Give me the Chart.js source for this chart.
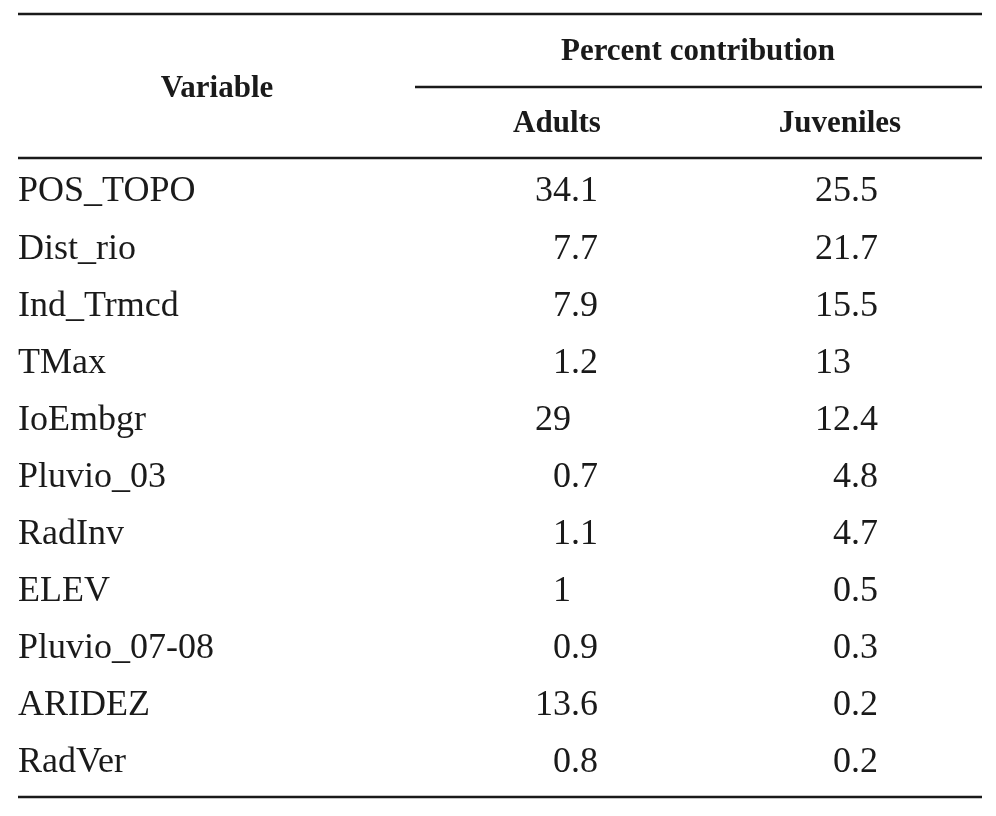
<!DOCTYPE html>
<html>
<head>
<meta charset="utf-8">
<script src="https://cdn.jsdelivr.net/npm/chart.js@4"></script>
<style>
  body { margin: 0; background: #fff; }
  #wrap { width: 996px; height: 816px; }
</style>
</head>
<body>
<div id="wrap"><canvas id="tabla"></canvas></div>
<script>
// Percent contribution table
const filas = [
    { variable: "POS_TOPO", adultos: "34.1", juveniles: "25.5" },
    { variable: "Dist_rio", adultos: "7.7", juveniles: "21.7" },
    { variable: "Ind_Trmcd", adultos: "7.9", juveniles: "15.5" },
    { variable: "TMax", adultos: "1.2", juveniles: "13" },
    { variable: "IoEmbgr", adultos: "29", juveniles: "12.4" },
    { variable: "Pluvio_03", adultos: "0.7", juveniles: "4.8" },
    { variable: "RadInv", adultos: "1.1", juveniles: "4.7" },
    { variable: "ELEV", adultos: "1", juveniles: "0.5" },
    { variable: "Pluvio_07-08", adultos: "0.9", juveniles: "0.3" },
    { variable: "ARIDEZ", adultos: "13.6", juveniles: "0.2" },
    { variable: "RadVer", adultos: "0.8", juveniles: "0.2" }
];

const primeraFila = 192, altoFila = 57.1;
const colVar = 18, colAdultos = 598, colJuveniles = 878;
const color = "#1a1a1a";

const reglas = [
    [{ x: 18, y: 14 }, { x: 982, y: 14 }],
    [{ x: 415, y: 87 }, { x: 982, y: 87 }],
    [{ x: 18, y: 158 }, { x: 982, y: 158 }],
    [{ x: 18, y: 797 }, { x: 982, y: 797 }]
];

const textoTabla = {
    id: "textoTabla",
    afterDatasetsDraw(chart) {
        const ctx = chart.ctx;
        const sx = chart.scales.x, sy = chart.scales.y;
        ctx.save();
        ctx.fillStyle = color;
        ctx.textBaseline = "middle";

        ctx.font = "bold 31px 'Liberation Serif'";
        ctx.textAlign = "center";
        ctx.fillText("Variable", sx.getPixelForValue(217), sy.getPixelForValue(89));
        ctx.fillText("Percent contribution", sx.getPixelForValue(698), sy.getPixelForValue(52));
        ctx.fillText("Adults", sx.getPixelForValue(557), sy.getPixelForValue(124));
        ctx.fillText("Juveniles", sx.getPixelForValue(840), sy.getPixelForValue(124));

        ctx.font = "36px 'Liberation Serif'";
        const decimal = ctx.measureText(".0").width;
        filas.forEach((fila, i) => {
            const y = sy.getPixelForValue(primeraFila + altoFila * i);
            ctx.textAlign = "left";
            ctx.fillText(fila.variable, sx.getPixelForValue(colVar), y);
            ctx.textAlign = "right";
            [[fila.adultos, colAdultos], [fila.juveniles, colJuveniles]].forEach(([v, c]) => {
                const off = v.includes(".") ? 0 : decimal;
                ctx.fillText(v, sx.getPixelForValue(c) - off, y);
            });
        });
        ctx.restore();
    }
};

new Chart(document.getElementById("tabla").getContext("2d"), {
    type: "scatter",
    data: {
        datasets: reglas.map(r => ({
            data: r, showLine: true, borderColor: color, borderWidth: 2.5, pointRadius: 0
        }))
    },
    options: {
        responsive: true, maintainAspectRatio: false, animation: false,
        layout: { padding: 0 },
        plugins: { legend: { display: false }, tooltip: { enabled: false } },
        scales: {
            x: { type: "linear", min: 0, max: 996, display: false },
            y: { type: "linear", min: 0, max: 816, reverse: true, display: false }
        }
    },
    plugins: [textoTabla]
});
</script>
</body>
</html>
